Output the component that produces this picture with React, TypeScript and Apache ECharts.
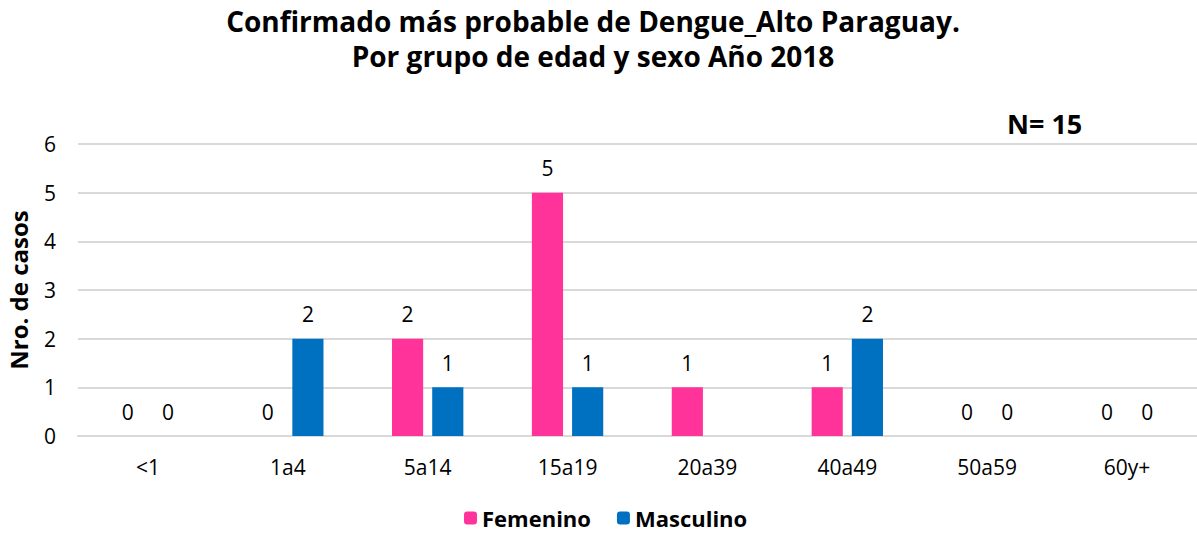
import React, { useEffect, useRef } from "react";
import * as echarts from "echarts";

const categories = ["<1", "1a4", "5a14", "15a19", "20a39", "40a49", "50a59", "60y+"];
const femenino: (number | null)[] = [0, 0, 2, 5, 1, 1, 0, 0];
const masculino: (number | null)[] = [0, 2, 1, 1, null, 2, 0, 0];
const titleLines = ["Confirmado más probable de Dengue_Alto Paraguay.", "Por grupo de edad y sexo Año 2018"];
const nText = "N= 15";
const yAxisName = "Nro. de casos";

const FONT = "'Open Sans', 'Noto Sans', sans-serif";

export default function App() {
  const ref = useRef<HTMLDivElement>(null);
  useEffect(() => {
    document.body.style.margin = "0";
    const chart = echarts.init(ref.current!, null, { renderer: "svg" });
    const label = {
      show: true,
      position: "top" as const,
      distance: 14,
      fontSize: 21,
      color: "#000",
      fontFamily: FONT,
    };
    chart.setOption({
      animation: false,
      textStyle: { fontFamily: FONT },
      title: {
        text: titleLines.join("\n"),
        left: 588,
        textAlign: "center",
        top: -2,
        textStyle: { fontSize: 28, fontWeight: "bold", color: "#000", lineHeight: 35, fontFamily: FONT },
      },
      graphic: [
        {
          type: "text",
          left: 1007,
          top: 110,
          style: { text: nText, fontSize: 27, fontWeight: "bold", fill: "#000", fontFamily: FONT },
        },
      ],
      legend: {
        bottom: 0,
        left: 459,
        itemWidth: 13,
        itemHeight: 13,
        itemGap: 26,
        textStyle: { fontSize: 22, fontWeight: "bold", color: "#000", fontFamily: FONT },
        data: ["Femenino", "Masculino"],
      },
      grid: { left: 78, right: 0, top: 144, bottom: 98, containLabel: false, outerBoundsMode: "none" },
      xAxis: {
        type: "category",
        data: categories,
        axisTick: { show: false },
        axisLine: { show: true, lineStyle: { color: "#d9d9d9", width: 2 } },
        axisLabel: { fontSize: 21, color: "#000", margin: 20, fontFamily: FONT },
      },
      yAxis: {
        type: "value",
        min: 0,
        max: 6,
        interval: 1,
        name: yAxisName,
        nameLocation: "middle",
        nameGap: 48,
        nameTextStyle: { fontSize: 24, fontWeight: "bold", color: "#000", fontFamily: FONT },
        axisLabel: { fontSize: 21, color: "#000", margin: 22, fontFamily: FONT },
        splitLine: { lineStyle: { color: "#d9d9d9", width: 2 } },
        axisLine: { show: false },
        axisTick: { show: false },
      },
      series: [
        {
          name: "Femenino",
          type: "bar",
          data: femenino,
          itemStyle: { color: "#FF3399" },
          barGap: "29%",
          barCategoryGap: "49%",
          label,
        },
        {
          name: "Masculino",
          type: "bar",
          data: masculino,
          itemStyle: { color: "#0070C0" },
          label,
        },
      ],
    });
    return () => chart.dispose();
  }, []);
  return <div ref={ref} style={{ width: 1197, height: 534 }} />;
}
